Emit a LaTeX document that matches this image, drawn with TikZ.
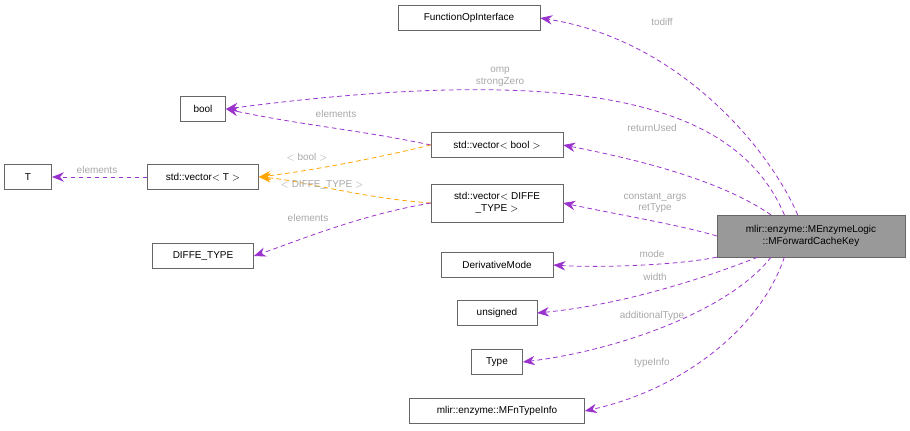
\documentclass[tikz,border=0pt]{standalone}
\usepackage{fontspec}
\setmainfont{Liberation Sans}
\usetikzlibrary{arrows.meta}
\definecolor{edgepurple}{HTML}{9A32CD}
\definecolor{edgeorange}{HTML}{FFA500}
\definecolor{lblgrey}{HTML}{A8A8A8}
\definecolor{boxgrey}{HTML}{666666}
\begin{document}
\begin{tikzpicture}[x=0.0264cm,y=-0.0264cm,font=\fontsize{7.5}{8.5}\selectfont,
	cls/.style={draw=boxgrey,fill=white,inner sep=0pt,minimum height=0.66cm,align=center},
	dep/.style={draw=edgepurple,line width=0.6pt,dash pattern=on 3.5pt off 2.5pt,-{Stealth[length=9pt,width=7pt,fill=edgepurple]}},
	tpl/.style={draw=edgeorange,line width=0.6pt,dash pattern=on 3.5pt off 2.5pt,-{Stealth[length=9pt,width=7pt,fill=edgeorange]}},
	lbl/.style={text=lblgrey,align=center,inner sep=0pt}]
	\useasboundingbox (0,0) rectangle (910,430);
	\node[cls,minimum width=3.75cm] (foi) at (469,18) {FunctionOpInterface};
	\node[cls,minimum width=1.2cm] (bool) at (203,109) {bool};
	\node[cls,minimum width=1.25cm] (t) at (28,177) {T};
	\node[cls,minimum width=2.93cm] (vect) at (203,177) {std::vector$<$ T $>$};
	\node[cls,minimum width=3.48cm] (vecb) at (497,145) {std::vector$<$ bool $>$};
	\node[cls,minimum width=3.48cm,minimum height=1cm] (vecd) at (497,203) {std::vector$<$ DIFFE\\\_TYPE $>$};
	\node[cls,minimum width=2.67cm] (diffe) at (203,256) {DIFFE\_TYPE};
	\node[cls,minimum width=2.96cm] (mode) at (497,265) {DerivativeMode};
	\node[cls,minimum width=2.1cm] (uns) at (497,313) {unsigned};
	\node[cls,minimum width=1.35cm] (type) at (497,362) {Type};
	\node[cls,minimum width=4.62cm] (tinfo) at (497,411) {mlir::enzyme::MFnTypeInfo};
	\node[cls,fill=black!40,minimum width=4.96cm,minimum height=1.1cm] (main) at (811,236) {mlir::enzyme::MEnzymeLogic\\::MForwardCacheKey};
	% members of the key
	\draw[dep] ([xshift=-10]main.north) .. controls (770,150) and (680,40) .. (foi.east);
	\draw[dep] ([xshift=-20]main.north) .. controls (740,110) and (600,60) .. (bool.east);
	\draw[dep] ([xshift=-30]main.north) .. controls (720,180) and (640,160) .. (vecb.east);
	\draw[dep] (main.west) .. controls (680,225) and (620,215) .. (vecd.east);
	\draw[dep] (main.south west) .. controls (680,265) and (600,268) .. (mode.east);
	\draw[dep] ([xshift=-40]main.south) .. controls (700,280) and (620,305) .. (uns.east);
	\draw[dep] ([xshift=-30]main.south) .. controls (730,310) and (620,350) .. (type.east);
	\draw[dep] ([xshift=-20]main.south) .. controls (760,330) and (680,390) .. (tinfo.east);
	% template instances
	\draw[dep] (vecb.west) .. controls (360,130) and (300,125) .. (bool.east);
	\draw[tpl] (vecb.west) .. controls (360,162) and (300,172) .. (vect.east);
	\draw[tpl] (vecd.west) .. controls (360,198) and (300,180) .. (vect.east);
	\draw[dep] (vecd.west) .. controls (360,215) and (300,240) .. (diffe.east);
	\draw[dep] (vect.west) -- (t.east);
	% labels
	\node[lbl] (l1) at (662,22) {todiff};
	\node[lbl] (l2) at (500,77) {omp\\strongZero};
	\node[lbl] (l3) at (652,128) {returnUsed};
	\node[lbl] (l4) at (655,203) {constant\_args\\retType};
	\node[lbl] (l5) at (652,254) {mode};
	\node[lbl] (l6) at (655,277) {width};
	\node[lbl] (l7) at (652,316) {additionalType};
	\node[lbl] (l8) at (652,363) {typeInfo};
	\node[lbl] (l9) at (336,114) {elements};
	\node[lbl] (l10) at (307,157) {$<$ bool $>$};
	\node[lbl] (l11) at (322,185) {$<$ DIFFE\_TYPE $>$};
	\node[lbl] (l12) at (308,218) {elements};
	\node[lbl] (l13) at (97,170) {elements};
\end{tikzpicture}
\end{document}
